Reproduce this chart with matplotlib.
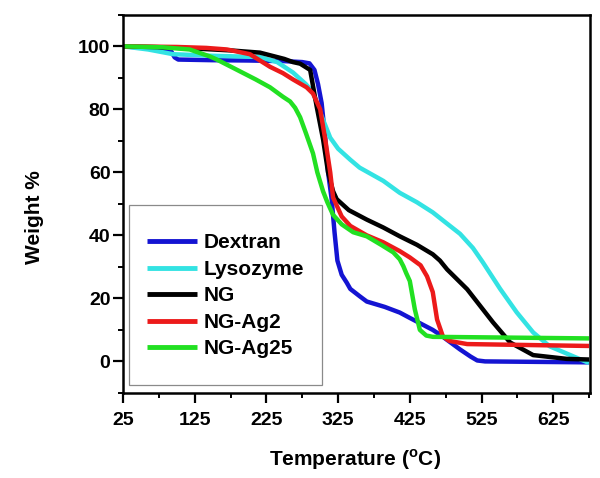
import numpy as np
import matplotlib
matplotlib.use("Agg")
import matplotlib.pyplot as plt
from matplotlib.patches import Rectangle
from matplotlib.ticker import FixedLocator

plt.rcParams['font.family'] = ['Liberation Sans', 'DejaVu Sans']
plt.rcParams['font.weight'] = 'bold'
plt.rcParams['mathtext.fontset'] = 'custom'
plt.rcParams['mathtext.rm'] = 'Liberation Sans'

# TGA curves (temperature degC, weight %)
t_dex = [25, 50, 80, 92, 97, 102, 150, 200, 250, 275, 285, 292, 297, 302, 307, 311, 316, 320, 324, 330,
         337, 342, 355, 365, 390, 411, 425, 457, 467, 495, 510, 519, 530, 675]
w_dex = [100, 99.6, 99, 98.5, 96.5, 95.8, 95.6, 95.5, 95.3, 95, 94.6, 92.5, 88, 82, 71, 60, 51.5, 41, 32, 27.5,
         25, 23, 20.7, 19, 17.3, 15.5, 13.8, 10, 8.5, 3.8, 1.5, 0.3, 0, -0.3]

t_lys = [25, 60, 95, 150, 216, 240, 262, 280, 290, 300, 307, 314, 325, 342, 355, 388, 411, 435, 457, 481,
         495, 513, 527, 551, 574, 597, 620, 653, 675]
w_lys = [100, 99, 97.5, 97, 96.6, 95, 91.7, 88, 85.4, 79, 75, 71, 67.5, 64, 61.5, 57.3, 53.5, 50.5, 47.3, 43,
         40.5, 36, 31.4, 23, 15.6, 9.2, 4.8, 1.6, -0.5]

t_ng = [25, 80, 125, 175, 216, 250, 262, 272, 286, 295, 304, 311, 318, 323, 340, 365, 388, 411, 435, 457,
        467, 477, 505, 541, 565, 597, 644, 675]
w_ng = [100, 99.7, 99.3, 98.7, 98, 96, 95, 94.5, 92.5, 81, 70.5, 60, 54, 51.5, 48, 45, 42.5, 39.7, 37, 34,
        32, 29.2, 22.9, 12.4, 6, 2, 0.8, 0.6]

t_ag2 = [25, 100, 141, 170, 202, 216, 230, 248, 262, 281, 290, 300, 307, 314, 318, 330, 342, 365, 388, 411,
         425, 440, 449, 457, 463, 471, 480, 505, 675]
w_ag2 = [100, 99.8, 99.5, 99, 97.5, 95.5, 93.5, 91.5, 89.5, 87, 85, 80, 70.5, 60, 52, 46, 43, 40, 37.8, 35,
         33, 30.5, 27, 22, 13.3, 8, 6.5, 5.5, 4.9]

t_ag25 = [25, 80, 118, 146, 155, 180, 210, 230, 248, 258, 265, 272, 280, 290, 296, 304, 310, 318, 330, 346,
          365, 385, 402, 411, 416, 420, 425, 432, 439, 448, 457, 675]
w_ag25 = [100, 99.7, 99, 96.8, 95.9, 93, 89.5, 87, 84, 82.5, 80.5, 77.5, 72.5, 66, 60, 54, 50.5, 46.5, 43.5, 41,
          39.7, 37, 34.6, 32.4, 30.2, 28, 25.5, 16.5, 10, 8.2, 7.8, 7.3]

labels = ["Dextran", "Lysozyme", "NG", "NG-Ag2", "NG-Ag25"]
colors = ["#1414d2", "#33e3e3", "#000000", "#ec1a1a", "#22e022"]
series = [(t_dex, w_dex), (t_lys, w_lys), (t_ng, w_ng), (t_ag2, w_ag2), (t_ag25, w_ag25)]

fig = plt.figure(figsize=(6, 4.78), dpi=100)
ax = fig.add_axes([0.205, 0.178, 0.778, 0.791])

for (t, w), lab, c in zip(series, labels, colors):
    ax.plot(t, w, color=c, lw=3.2, label=lab, solid_joinstyle='round', solid_capstyle='butt')

ax.set_xlim(25, 676)
ax.set_ylim(-10, 110)
ax.set_xticks([25, 125, 225, 325, 425, 525, 625])
ax.xaxis.set_minor_locator(FixedLocator([75, 175, 275, 375, 475, 575, 675]))
ax.set_yticks([0, 20, 40, 60, 80, 100])
ax.yaxis.set_minor_locator(FixedLocator([-10, 10, 30, 50, 70, 90, 110]))
ax.tick_params(which='major', direction='out', length=7.5, width=1.6, labelsize=14)
ax.tick_params(axis='x', which='major', pad=6)
ax.tick_params(axis='y', which='major', pad=1.5)
ax.tick_params(which='minor', direction='out', length=3.6, width=1.4)
ax.tick_params(top=False, right=False)
for s in ax.spines.values():
    s.set_linewidth(1.8)

ax.set_xlabel(r'Temperature ($^\mathrm{o}$C)', fontsize=15, fontweight='bold')
ax.set_ylabel('Weight %', fontsize=15, fontweight='bold')
ax.xaxis.set_label_coords(0.498, -0.143)
ax.yaxis.set_label_coords(-0.169, 0.466)

ax.add_patch(Rectangle((0.013, 0.021), 0.413, 0.476, transform=ax.transAxes,
                       fill=True, facecolor='white', edgecolor='#8a8a8a', lw=0.9, zorder=3))
leg = ax.legend(loc='upper left', bbox_to_anchor=(0.051, 0.422), frameon=False, fontsize=15,
                handlelength=2.4, handletextpad=0.35, labelspacing=0.36, borderpad=0, borderaxespad=0)
leg.set_zorder(4)
for h in leg.get_lines():
    h.set_linewidth(3.5)

fig.savefig("out.png", dpi=100)
